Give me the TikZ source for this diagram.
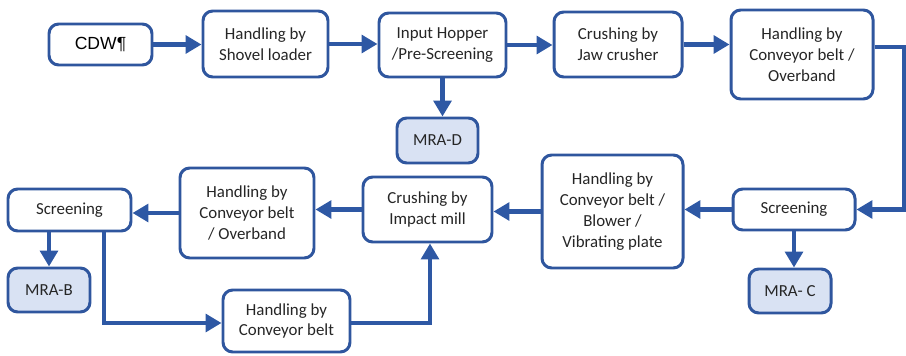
\documentclass[tikz,border=0pt]{standalone}
\usepackage{fontspec}
\setmainfont{Carlito}
\newfontfamily\arialfont{Liberation Sans}
\usetikzlibrary{arrows.meta}
\definecolor{edge}{HTML}{2F569E}
\definecolor{flow}{HTML}{2E58A4}
\definecolor{outfill}{HTML}{D9E2F3}
\definecolor{ink}{HTML}{262626}
% place a node by its pixel-style corner coordinates
\newcommand\pbox[7]{\node[#1, minimum width={(#4-#3)*0.02cm}, minimum height={(#6-#5)*0.02cm}] (#2) at ({(#3+#4)/2},{(#5+#6)/2}) {#7};}
\tikzset{
  stage/.style={draw=edge, line width=1.7pt, rounded corners=5.5pt, fill=white,
    align=center, inner sep=1pt, text=ink, font=\fontsize{9.6}{11.8}\selectfont},
  output/.style={stage, fill=outfill},
  flowline/.style={draw=flow, line width=2.3pt, -{Triangle[length=9pt,width=10pt]}},
}
\begin{document}
\begin{tikzpicture}[x=0.02cm,y=-0.02cm]
\useasboundingbox (0,0) rectangle (906,355);
% top row
\pbox{stage, font=\arialfont\fontsize{10}{12}\selectfont, text=black}{cdw}{49}{152}{24}{65}{CDW¶}
\pbox{stage}{shovel}{203}{328}{11}{77}{Handling by\\Shovel loader}
\pbox{stage}{hopper}{379}{506}{13}{77}{Input Hopper\\/Pre-Screening}
\pbox{output}{mrad}{397}{478}{118}{163}{MRA-D}
\pbox{stage}{jaw}{554}{682}{12}{77}{Crushing by\\Jaw crusher}
\pbox{stage}{convA}{731}{873}{10}{99}{Handling by\\Conveyor belt /\\Overband}
% middle row
\pbox{stage}{screenA}{733}{855}{189}{230}{Screening}
\pbox{output}{mrac}{749}{831}{269}{313}{MRA- C}
\pbox{stage}{vib}{542}{683}{155}{268}{Handling by\\Conveyor belt /\\Blower /\\Vibrating plate}
\pbox{stage}{impact}{363}{492}{177}{242}{Crushing by\\Impact mill}
\pbox{stage}{convB}{180}{314}{168}{258}{Handling by\\Conveyor belt\\/ Overband}
\pbox{stage}{screenB}{8}{131}{189}{231}{Screening}
\pbox{output}{mrab}{8}{90}{268}{312}{MRA-B}
\pbox{stage}{convC}{223}{350}{290}{352}{Handling by\\Conveyor belt}
% corner points of the routed connectors
\coordinate (rightturn) at (904,47);
\coordinate (dropB) at (104,323);
\coordinate (riseC) at (430,323);
% connectors
\draw[flowline] (cdw.east) -- (cdw.east -| shovel.west);
\draw[flowline] (shovel.east) -- (shovel.east -| hopper.west);
\draw[flowline] (hopper.south) -- (hopper.south |- mrad.north);
\draw[flowline] (hopper.east) -- (hopper.east -| jaw.west);
\draw[flowline] (jaw.east) -- (jaw.east -| convA.west);
\draw[flowline] (convA.east |- rightturn) -- (rightturn) |- (screenA.east);
\draw[flowline] (screenA.south) -- (screenA.south |- mrac.north);
\draw[flowline] (screenA.west) -- (screenA.west -| vib.east);
\draw[flowline] (vib.west) -- (vib.west -| impact.east);
\draw[flowline] (impact.west) -- (impact.west -| convB.east);
\draw[flowline] (convB.west) -- (convB.west -| screenB.east);
\draw[flowline] (mrab.north |- screenB.south) -- (mrab.north);
\draw[flowline] (dropB |- screenB.south) -- (dropB) -- (dropB -| convC.west);
\draw[flowline] (convC.east |- riseC) -- (riseC) -- (riseC |- impact.south);
\end{tikzpicture}
\end{document}
